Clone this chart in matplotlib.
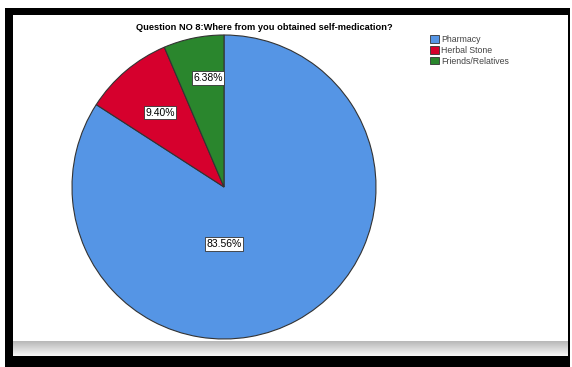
import numpy as np
import matplotlib.pyplot as plt
from matplotlib.patches import Rectangle, Patch

plt.rcParams['font.family'] = ['Liberation Sans', 'DejaVu Sans']

# data
sources = ["Pharmacy", "Herbal Stone", "Friends/Relatives"]
shares = [83.56, 9.40, 6.38]
colors = ["#5595e5", "#d6002d", "#2a862d"]
title = "Question NO 8:Where from you obtained self-medication?"

# where the SPSS-style labels sit inside the pie (data units)
label_pos = [(0.0, -0.375), (-0.421, 0.49), (-0.105, 0.717)]

W, H = 572, 367
fig = plt.figure(figsize=(W / 100, H / 100), dpi=100)

# black frame, white panel, grey strip at the bottom
fig.patches.append(Rectangle((5 / W, 0), 565 / W, 359 / H, transform=fig.transFigure,
                             facecolor="black", edgecolor="none", zorder=-2))
fig.patches.append(Rectangle((13 / W, 26 / H), 555 / W, 326 / H, transform=fig.transFigure,
                             facecolor="white", edgecolor="none", zorder=-1))
gax = fig.add_axes([13 / W, 11 / H, 555 / W, 15 / H])
grad = np.linspace(0.72, 0.97, 30).reshape(-1, 1)
gax.imshow(grad, cmap="gray", vmin=0, vmax=1, aspect="auto", extent=[0, 1, 0, 1])
gax.axis("off")

# pie
ax = fig.add_axes([(224 - 152) / W, 28 / H, 304 / W, 304 / H])
ax.patch.set_visible(False)
wedges, _ = ax.pie(shares, colors=colors, startangle=90, counterclock=False,
                   wedgeprops=dict(edgecolor="#333333", linewidth=0.8))
ax.set_xlim(-1, 1)
ax.set_ylim(-1, 1)
ax.set_aspect("equal")

for (x, y), v in zip(label_pos, shares):
    ax.text(x, y, f"{v:.2f}%", ha="center", va="center", fontsize=7.5,
            bbox=dict(boxstyle="square,pad=0.15", facecolor="white",
                      edgecolor="#333333", linewidth=0.6))

fig.text(264 / W, 1 - 27 / H, title, ha="center", va="center",
         fontsize=6.7, fontweight="bold")

handles = [Patch(facecolor=c, edgecolor="#333333", linewidth=0.6) for c in colors]
leg = fig.legend(handles, sources, loc="upper left", bbox_to_anchor=(430 / W, 1 - 35 / H),
                 frameon=False, fontsize=6.3, handlelength=1.0, handleheight=1.0,
                 handletextpad=0.25, labelspacing=0.2, borderaxespad=0, borderpad=0)
for t in leg.get_texts():
    t.set_color("#444444")

fig.savefig("out.png", dpi=100, facecolor="white")
